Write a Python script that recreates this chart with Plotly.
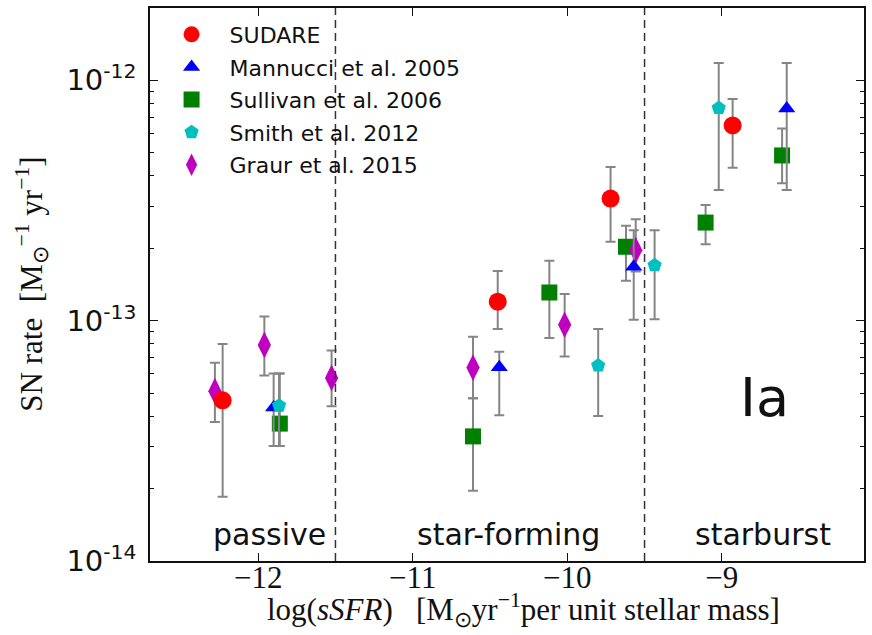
import plotly.graph_objects as go

# ---- data (log sSFR, SN rate, upper / lower error-bar ends) ----
sudare_x = [-12.23, -10.45, -9.72, -8.93]
sudare_y = [4.66e-14, 1.20e-13, 3.22e-13, 6.49e-13]
sudare_hi = [8.0e-14, 1.61e-13, 4.36e-13, 8.36e-13]
sudare_lo = [1.85e-14, 9.24e-14, 2.13e-13, 4.33e-13]

mannucci_x = [-11.90, -10.44, -9.57, -8.58]
mannucci_y = [4.35e-14, 6.40e-14, 1.675e-13, 7.63e-13]
mannucci_hi = [6.03e-14, 7.43e-14, 2.38e-13, 1.18e-12]
mannucci_lo = [3.01e-14, 4.04e-14, 1.01e-13, 3.50e-13]

sullivan_x = [-11.86, -10.61, -10.116, -9.62, -9.105, -8.61]
sullivan_y = [3.73e-14, 3.30e-14, 1.31e-13, 2.03e-13, 2.56e-13, 4.87e-13]
sullivan_hi = [6.03e-14, 4.76e-14, 1.774e-13, 2.48e-13, 3.03e-13, 6.31e-13]
sullivan_lo = [3.01e-14, 1.96e-14, 8.48e-14, 1.466e-13, 2.08e-13, 3.73e-13]

smith_x = [-11.865, -9.80, -9.435, -9.02]
smith_y = [4.43e-14, 6.51e-14, 1.70e-13, 7.67e-13]
smith_hi = [6.03e-14, 9.24e-14, 2.38e-13, 1.18e-12]
smith_lo = [3.01e-14, 4.01e-14, 1.014e-13, 3.50e-13]

graur_x = [-12.28, -11.96, -11.525, -10.61, -10.017, -9.557]
graur_y = [5.09e-14, 7.93e-14, 5.78e-14, 6.38e-14, 9.62e-14, 1.965e-13]
graur_hi = [6.68e-14, 1.042e-13, 7.51e-14, 8.58e-14, 1.291e-13, 2.64e-13]
graur_lo = [3.79e-14, 5.91e-14, 4.40e-14, 4.76e-14, 7.10e-14, 1.603e-13]

region_names = ["passive", "star-forming", "starburst"]
region_x = [-11.93, -10.38, -8.735]
region_bounds = [-11.5, -9.5]

x_ticks = [-12, -11, -10, -9]
x_ticktext = ["\u221212", "\u221211", "\u221210", "\u22129"]
y_ticks = [1e-14, 1e-13, 1e-12]
y_ticktext = ["10<sup>-14</sup>", "10<sup>-13</sup>", "10<sup>-12</sup>"]

ERR_COLOR = "#858585"

series = [
    # name, x, y, hi, lo, color, symbol, size, legendrank
    ("Sullivan et al. 2006", sullivan_x, sullivan_y, sullivan_hi, sullivan_lo, "#008000", "square", 16, 3),
    ("Graur et al. 2015", graur_x, graur_y, graur_hi, graur_lo, "#bf00bf", "diamond-tall", 19, 5),
    ("Mannucci et al. 2005", mannucci_x, mannucci_y, mannucci_hi, mannucci_lo, "#0000ff", "triangle-up", 15, 2),
    ("Smith et al. 2012", smith_x, smith_y, smith_hi, smith_lo, "#00bfbf", "pentagon", 15, 4),
    ("SUDARE", sudare_x, sudare_y, sudare_hi, sudare_lo, "#ff0000", "circle", 18, 1),
]

fig = go.Figure()
for name, xs, ys, his, los, col, sym, sz, rank in series:
    fig.add_trace(go.Scatter(
        x=xs, y=ys, mode="markers", name=name, legendrank=rank,
        legendgroup=name,
        marker=dict(color=col, symbol=sym, size=sz, line=dict(width=0)),
        error_y=dict(type="data", symmetric=False,
                     array=[h - v for h, v in zip(his, ys)],
                     arrayminus=[v - l for v, l in zip(ys, los)],
                     color=ERR_COLOR, thickness=2, width=5),
    ))

for xb in region_bounds:
    fig.add_shape(type="line", xref="x", yref="paper", x0=xb, x1=xb, y0=0, y1=1,
                  line=dict(color="#333333", width=1.5, dash="8px,5px"))

annotations = []
for name, xr in zip(region_names, region_x):
    annotations.append(dict(x=xr, y=-13.89, xref="x", yref="y", text=name, showarrow=False,
                            font=dict(family="DejaVu Sans", size=30, color="#111111"),
                            xanchor="center", yanchor="middle"))
annotations.append(dict(x=-8.723, y=-13.32, xref="x", yref="y", text="Ia", showarrow=False,
                        font=dict(family="DejaVu Sans", size=54, color="#111111"),
                        xanchor="center", yanchor="middle"))
annotations.append(dict(x=0.5237, y=-0.089, xref="paper", yref="paper",
                        text="log(<i>sSFR</i>)   [M<sub>\u2299</sub>yr<sup>\u22121</sup>per unit stellar mass]",
                        showarrow=False, xanchor="center", yanchor="middle",
                        font=dict(family="Liberation Serif", size=31, color="#111111")))
annotations.append(dict(x=-0.1664, y=0.5, xref="paper", yref="paper", textangle=-90,
                        text="SN rate  [M<sub>\u2299</sub><sup>\u22121</sup> yr<sup>\u22121</sup>]",
                        showarrow=False, xanchor="center", yanchor="middle",
                        font=dict(family="Liberation Serif", size=31, color="#111111")))

minor_vals = [m * 10.0 ** e for e in (-14, -13, -12) for m in range(2, 10)]

fig.update_layout(
    width=872, height=635,
    margin=dict(l=150, r=6, t=7, b=74),
    paper_bgcolor="white", plot_bgcolor="white",
    showlegend=True,
    legend=dict(x=0.005, y=0.99, xanchor="left", yanchor="top",
                bgcolor="rgba(0,0,0,0)", borderwidth=0,
                font=dict(family="DejaVu Sans", size=22, color="#111111"),
                itemwidth=66, tracegroupgap=1, itemsizing="trace"),
    annotations=annotations,
    xaxis=dict(range=[-12.7, -8.08], tickmode="array", tickvals=x_ticks, ticktext=x_ticktext,
               showgrid=False, zeroline=False, showline=True, linecolor="#111111", linewidth=1.5,
               mirror="ticks", ticks="inside", ticklen=8, tickwidth=1.2, tickcolor="#111111",
               ticklabelstandoff=-12,
               tickfont=dict(family="Liberation Serif", size=31, color="#111111")),
    yaxis=dict(type="log", range=[-14, -11.699], tickmode="array", tickvals=y_ticks, ticktext=y_ticktext,
               showgrid=False, zeroline=False, showline=True, linecolor="#111111", linewidth=1.5,
               mirror="ticks", ticks="inside", ticklen=8, tickwidth=1.2, tickcolor="#111111",
               ticklabelstandoff=6,
               tickfont=dict(family="DejaVu Sans", size=29, color="#111111"),
               minor=dict(tickmode="array", tickvals=minor_vals, ticks="inside", ticklen=4,
                          tickwidth=1, tickcolor="#111111", showgrid=False)),
)

fig.write_html("out.html")
